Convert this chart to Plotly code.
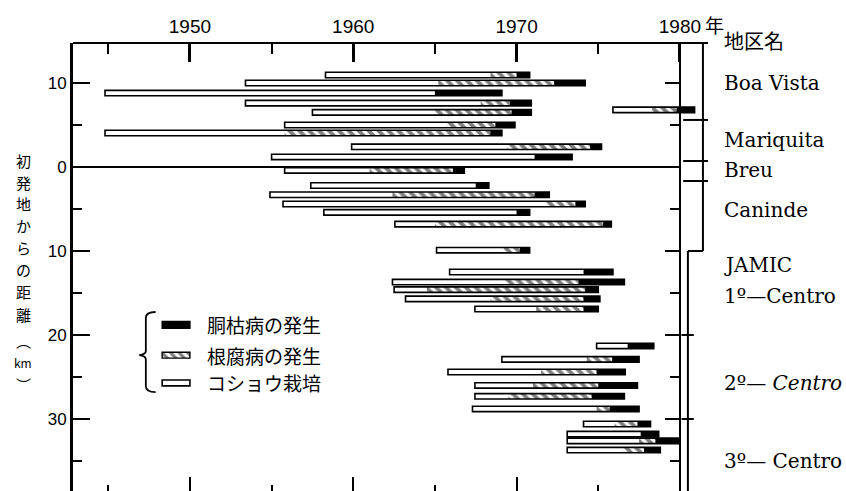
import plotly.graph_objects as go

# ---- data: one row per field (distance from first outbreak, km; north = +) ----
row_km = [10.95, 10.0, 8.8, 7.6, 6.5, 6.8,
          5.0, 4.05, 2.4, 1.2,
          -0.4,
          -2.2, -3.3, -4.4, -5.4, -6.8, -9.9,
          -12.5, -13.7, -14.6, -15.7, -16.9,
          -21.3, -22.9, -24.4, -26.0, -27.3, -28.8,
          -30.6, -31.8, -32.6, -33.7]
# year pepper planting started
start_yr = [1958.3, 1953.4, 1944.8, 1953.4, 1957.5, 1975.9,
            1955.8, 1944.8, 1959.9, 1955.0,
            1955.8,
            1957.4, 1954.9, 1955.7, 1958.2, 1962.55, 1965.1,
            1965.9, 1962.4, 1962.5, 1963.2, 1967.45,
            1974.9, 1969.1, 1965.8, 1967.45, 1967.45, 1967.3,
            1974.1, 1973.1, 1973.1, 1973.1]
# year root rot appeared (None = not observed)
rot_yr = [1968.4, 1965.2, None, 1967.8, 1965.0, 1978.3,
          1965.7, 1955.8, 1969.4, None,
          1961.0,
          None, 1962.4, 1971.8, None, 1965.0, 1969.2,
          None, 1969.3, 1964.5, 1968.4, 1971.2,
          None, 1974.3, 1971.5, 1971.0, 1969.5, 1974.9,
          1976.0, None, 1977.5, 1976.5]
# year stem blight appeared
blight_yr = [1970.0, 1972.3, 1965.0, 1969.6, 1969.7, 1979.8,
             1968.7, 1968.4, 1974.5, 1971.1,
             1966.1,
             1967.5, 1971.1, 1973.6, 1970.0, 1975.3, 1970.2,
             1974.1, 1973.8, 1974.2, 1974.1, 1974.1,
             1976.8, 1975.85, 1974.9, 1975.0, 1974.6, 1975.7,
             1977.4, 1977.6, 1978.5, 1977.8]
# last year of record
end_yr = [1970.8, 1974.2, 1969.1, 1970.9, 1970.9, 1980.9,
          1969.9, 1969.1, 1975.2, 1973.4,
          1966.8,
          1968.3, 1972.0, 1974.2, 1970.8, 1975.8, 1970.8,
          1975.9, 1976.6, 1975.0, 1975.1, 1975.0,
          1978.4, 1977.5, 1976.65, 1977.4, 1976.6, 1977.5,
          1978.2, 1978.7, 1980.0, 1978.8]

# axis ticks
km_major = [10, 0, -10, -20, -30]
km_major_text = ["10", "0", "10", "20", "30"]
km_minor = [5, -5, -15, -25, -35]
yr_major = [1950, 1960, 1970, 1980]
yr_major_text = ["1950", "1960", "1970", "1980"]
yr_minor = [1945, 1955, 1965, 1975]

# district names and their boundaries (km)
district_names = ["Boa Vista", "Mariquita", "Breu", "Caninde", "JAMIC",
                  "1º—Centro", "2º— <i>Centro</i>", "3º— Centro"]
district_label_km = [10.0, 3.2, -0.36, -5.1, -11.7, -15.4, -25.7, -35.0]
district_bounds_km = [5.6, 0.71, -1.67]
centro_bounds_km = [-20, -30]

legend_labels = ["胴枯病の発生", "根腐病の発生", "コショウ栽培"]

# vertical axis title, one glyph per line
title_glyphs = ["初", "発", "地", "か", "ら", "の", "距", "離", "︵", "km", "︶"]
title_glyph_km = [0.83, -1.79, -4.40, -7.02, -9.64, -12.26, -14.88, -17.5,
                  -20.6, -23.33, -25.95]

# ---- geometry ----
X0, X1 = 1942.84, 1990.17
Y0, Y1 = -38.57, 14.76
BORDER_YR = 1980.0
COL_OUTER = 1981.41
COL_INNER = 1980.49
BAR_W = 0.65


def xp(v):
    return (v - X0) / (X1 - X0)


def yp(v):
    return (v - Y0) / (Y1 - Y0)


def span(a_list, b_list):
    base, length = [], []
    for a, b in zip(a_list, b_list):
        if a is None or b is None:
            base.append(None)
            length.append(None)
        else:
            base.append(a)
            length.append(b - a)
    return base, length


full_base, full_len = span(start_yr, end_yr)
rot_base, rot_len = span(rot_yr, end_yr)
bl_base, bl_len = span(blight_yr, end_yr)

hatch_pattern = dict(shape="\\", fgcolor="black", bgcolor="white", size=7, solidity=0.55)

fig = go.Figure()
# cultivation period (white)
fig.add_trace(go.Bar(orientation="h", y=row_km, base=full_base, x=full_len,
                     width=BAR_W, marker=dict(color="white", line=dict(width=0)),
                     hoverinfo="skip"))
# root rot period (hatched)
fig.add_trace(go.Bar(orientation="h", y=row_km, base=rot_base, x=rot_len,
                     width=BAR_W,
                     marker=dict(color="white", pattern=hatch_pattern, line=dict(width=0)),
                     hoverinfo="skip"))
# stem blight period (black)
fig.add_trace(go.Bar(orientation="h", y=row_km, base=bl_base, x=bl_len,
                     width=BAR_W, marker=dict(color="black", line=dict(width=0)),
                     hoverinfo="skip"))
# outline of each record
fig.add_trace(go.Bar(orientation="h", y=row_km, base=full_base, x=full_len,
                     width=BAR_W,
                     marker=dict(color="rgba(0,0,0,0)",
                                 line=dict(color="black", width=1.6)),
                     hoverinfo="skip"))

# key swatches
LEG_KM = [-18.8, -22.4, -25.7]
LEG_X0, LEG_LEN = 1948.3, 1.7
fig.add_trace(go.Bar(orientation="h", y=[LEG_KM[0]], base=[LEG_X0], x=[LEG_LEN],
                     width=0.8, marker=dict(color="black", line=dict(color="black", width=1.4)),
                     hoverinfo="skip"))
fig.add_trace(go.Bar(orientation="h", y=[LEG_KM[1]], base=[LEG_X0], x=[LEG_LEN],
                     width=0.7, marker=dict(color="white",
                                            pattern=dict(shape="\\", fgcolor="black",
                                                         bgcolor="white", size=6, solidity=0.5),
                                            line=dict(color="black", width=1.4)),
                     hoverinfo="skip"))
fig.add_trace(go.Bar(orientation="h", y=[LEG_KM[2]], base=[LEG_X0], x=[LEG_LEN],
                     width=0.7, marker=dict(color="white", line=dict(color="black", width=1.6)),
                     hoverinfo="skip"))

# carrier for the secondary (top / 1980) axes
fig.add_trace(go.Scatter(x=[None], y=[None], xaxis="x2", yaxis="y2",
                         mode="markers", hoverinfo="skip", showlegend=False))

tick_font = dict(family="Liberation Sans, Arial, sans-serif", size=19, color="black")

fig.update_layout(
    width=846, height=491,
    margin=dict(l=73, r=0, t=43, b=0),
    plot_bgcolor="white", paper_bgcolor="white",
    barmode="overlay", showlegend=False,
    xaxis=dict(range=[X0, X1], side="bottom", showgrid=False, zeroline=False,
               showline=False, showticklabels=False,
               tickmode="array", tickvals=[1950, 1960, 1970],
               ticks="inside", ticklen=14, tickwidth=2, tickcolor="black",
               minor=dict(tickmode="array", tickvals=yr_minor, ticks="inside",
                          ticklen=6, tickwidth=2, tickcolor="black")),
    xaxis2=dict(range=[X0, X1], overlaying="x", side="top", anchor="free", position=1,
                showgrid=False, zeroline=False, showline=False,
                tickmode="array", tickvals=yr_major, ticktext=yr_major_text,
                ticks="inside", ticklen=18, tickwidth=2.5, tickcolor="black",
                tickfont=tick_font, ticklabelstandoff=6,
                minor=dict(tickmode="array", tickvals=yr_minor, ticks="inside",
                           ticklen=10, tickwidth=2, tickcolor="black")),
    yaxis=dict(range=[Y0, Y1], showgrid=False, zeroline=False,
               showline=True, linecolor="black", linewidth=2.8,
               tickmode="array", tickvals=km_major, ticktext=km_major_text,
               ticks="inside", ticklen=17, tickwidth=2, tickcolor="black",
               tickfont=dict(family="Liberation Sans, Arial, sans-serif", size=17, color="black"),
               minor=dict(tickmode="array", tickvals=km_minor, ticks="inside",
                          ticklen=9, tickwidth=2, tickcolor="black")),
    yaxis2=dict(range=[Y0, Y1], overlaying="y", side="right", anchor="free",
                position=xp(BORDER_YR), showgrid=False, zeroline=False,
                showline=True, linecolor="black", linewidth=2.2,
                showticklabels=False,
                tickmode="array", tickvals=km_major,
                ticks="inside", ticklen=14, tickwidth=2, tickcolor="black",
                minor=dict(tickmode="array", tickvals=km_minor, ticks="inside",
                           ticklen=9, tickwidth=2, tickcolor="black")),
)

line = dict(color="black", width=2)
shapes = [
    # top frame line running across the district column
    dict(type="line", xref="paper", yref="paper", x0=0, x1=xp(1981.72), y0=1, y1=1, line=line),
    # zero line
    dict(type="line", xref="paper", yref="paper", x0=0, x1=xp(BORDER_YR),
         y0=yp(0), y1=yp(0), line=line),
    # district column
    dict(type="line", xref="paper", yref="paper", x0=xp(COL_OUTER), x1=xp(COL_OUTER),
         y0=1, y1=yp(-10), line=line),
    dict(type="line", xref="paper", yref="paper", x0=xp(COL_INNER), x1=xp(COL_OUTER),
         y0=yp(-10), y1=yp(-10), line=line),
    dict(type="line", xref="paper", yref="paper", x0=xp(COL_INNER), x1=xp(COL_INNER),
         y0=yp(-10), y1=0, line=line),
]
for b in district_bounds_km:
    shapes.append(dict(type="line", xref="paper", yref="paper",
                       x0=xp(1980.2), x1=xp(1981.72), y0=yp(b), y1=yp(b), line=line))
for b in centro_bounds_km:
    shapes.append(dict(type="line", xref="paper", yref="paper",
                       x0=xp(1980.1), x1=xp(1980.85), y0=yp(b), y1=yp(b), line=line))
# brace grouping the key
bx, bt, bm, bb = 1947.3, -17.26, -22.4, -26.8
brace = (f"M {xp(bx + 0.6)},{yp(bt)} Q {xp(bx)},{yp(bt)} {xp(bx)},{yp(bt - 0.7)} "
         f"L {xp(bx)},{yp(bm + 0.5)} Q {xp(bx)},{yp(bm + 0.1)} {xp(bx - 0.4)},{yp(bm)} "
         f"Q {xp(bx)},{yp(bm - 0.1)} {xp(bx)},{yp(bm - 0.5)} "
         f"L {xp(bx)},{yp(bb + 0.7)} Q {xp(bx)},{yp(bb)} {xp(bx + 0.6)},{yp(bb)}")
shapes.append(dict(type="path", xref="paper", yref="paper", path=brace,
                   line=dict(color="black", width=1.8)))
fig.update_layout(shapes=shapes)

serif = dict(family="DejaVu Serif, Liberation Serif, serif", size=20, color="black")
cjk = "Noto Sans CJK JP, sans-serif"
ann = []
for name, k in zip(district_names, district_label_km):
    ann.append(dict(text=name, xref="paper", yref="paper", x=xp(1982.58), y=yp(k),
                    xanchor="left", yanchor="middle", showarrow=False, font=serif))
ann.append(dict(text="地区名", xref="paper", yref="paper", x=xp(1982.58), y=yp(15.1),
                xanchor="left", yanchor="middle", showarrow=False,
                font=dict(family=cjk, size=20, color="black")))
ann.append(dict(text="年", xref="paper", yref="paper", x=xp(1981.4), y=yp(17.0),
                xanchor="left", yanchor="middle", showarrow=False,
                font=dict(family=cjk, size=19, color="black")))
for lab, k in zip(legend_labels, LEG_KM):
    ann.append(dict(text=lab, xref="paper", yref="paper", x=xp(1950.92), y=yp(k),
                    xanchor="left", yanchor="middle", showarrow=False,
                    font=dict(family=cjk, size=19, color="black")))
for g, k in zip(title_glyphs, title_glyph_km):
    ann.append(dict(text=g, xref="paper", yref="paper", x=xp(1939.8), y=yp(k),
                    xanchor="center", yanchor="middle", showarrow=False, borderpad=0,
                    font=dict(family=cjk, size=12 if g == "km" else 15, color="black")))
fig.update_layout(annotations=ann)

fig.write_html("out.html")
